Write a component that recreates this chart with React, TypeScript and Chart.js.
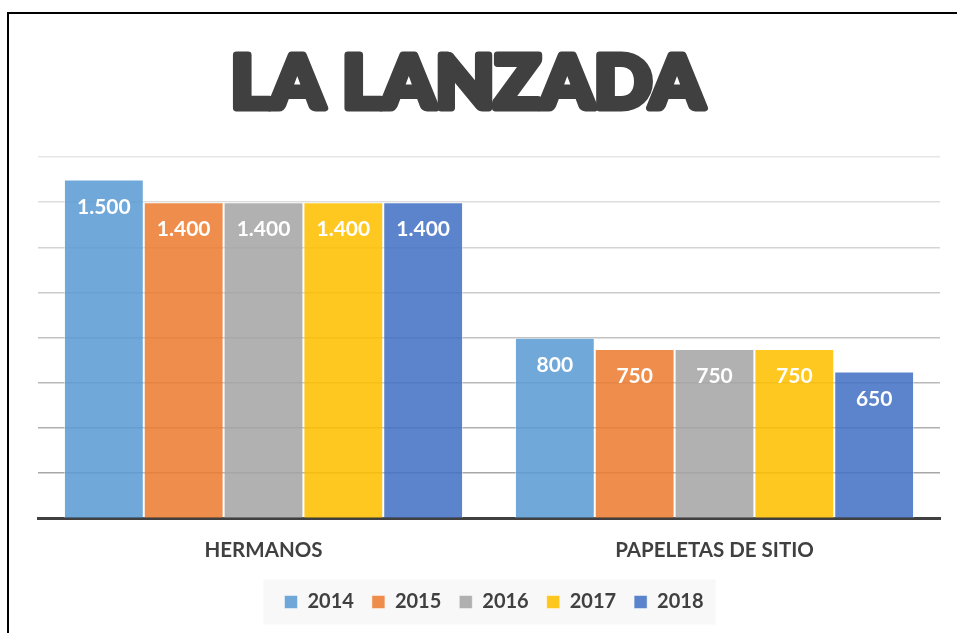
import React, { useEffect, useRef } from "react";
import { Chart, registerables } from "chart.js";

Chart.register(...registerables);

// ---- data ----
const categories = ["HERMANOS", "PAPELETAS DE SITIO"];
const seriesNames = ["2014", "2015", "2016", "2017", "2018"];
const values2014 = [1500, 800];
const values2015 = [1400, 750];
const values2016 = [1400, 750];
const values2017 = [1400, 750];
const values2018 = [1400, 650];
const yMax = 1600;
const yStep = 200;
const titleText = "LA LANZADA";

const seriesValues = [values2014, values2015, values2016, values2017, values2018];
const seriesColors = [
  "rgba(91,155,213,0.87)",
  "rgba(237,125,49,0.87)",
  "rgba(165,165,165,0.87)",
  "rgba(255,192,0,0.87)",
  "rgba(68,114,196,0.87)",
];

const fmt = (v: number) => {
  const s = String(Math.round(v));
  return s.replace(/\B(?=(\d{3})+(?!\d))/g, ".");
};

const DARK = "#404040";

const titlePlugin = {
  id: "bigTitle",
  afterDraw(chart: any) {
    const ctx = chart.ctx as CanvasRenderingContext2D;
    ctx.save();
    ctx.font = "900 80px Lato, 'DejaVu Sans', sans-serif";
    ctx.textAlign = "left";
    ctx.textBaseline = "alphabetic";
    const m = ctx.measureText(titleText);
    const w = m.actualBoundingBoxRight + m.actualBoundingBoxLeft;
    const h = m.actualBoundingBoxAscent;
    const strokePx = 7;
    const left = 233;
    const right = 708;
    const top = 52;
    const bottom = 111;
    const targetW = right - left - strokePx;
    const targetH = bottom - top - strokePx;
    const sx = targetW / w;
    const sy = targetH / h;
    ctx.translate(left + strokePx / 2, bottom - strokePx / 2);
    ctx.scale(sx, sy);
    ctx.fillStyle = DARK;
    ctx.strokeStyle = DARK;
    ctx.lineJoin = "round";
    ctx.lineWidth = strokePx / ((sx + sy) / 2);
    ctx.fillText(titleText, m.actualBoundingBoxLeft, 0);
    ctx.strokeText(titleText, m.actualBoundingBoxLeft, 0);
    ctx.restore();
  },
};

const valueLabelPlugin = {
  id: "valueLabels",
  afterDatasetsDraw(chart: any) {
    const ctx = chart.ctx as CanvasRenderingContext2D;
    ctx.save();
    ctx.font = "bold 21px Lato, sans-serif";
    ctx.fillStyle = "#ffffff";
    ctx.textAlign = "center";
    ctx.textBaseline = "middle";
    chart.data.datasets.forEach((ds: any, i: number) => {
      const meta = chart.getDatasetMeta(i);
      meta.data.forEach((el: any, j: number) => {
        ctx.fillText(fmt(ds.data[j]), el.x, el.y + 27.5);
      });
    });
    ctx.restore();
  },
};

const LEGEND_SHIFT = 5;

const legendBgPlugin = {
  id: "legendBg",
  afterUpdate(chart: any) {
    const lg = chart.legend;
    if (!lg) return;
    lg.left += LEGEND_SHIFT;
    lg.right += LEGEND_SHIFT;
    (lg.legendHitBoxes || []).forEach((bx: any) => {
      bx.left += LEGEND_SHIFT;
    });
  },
  beforeDraw(chart: any) {
    const lg = chart.legend;
    if (!lg || !lg.legendHitBoxes || !lg.legendHitBoxes.length) return;
    const boxes = lg.legendHitBoxes;
    let l = Infinity, r = -Infinity;
    boxes.forEach((bx: any) => {
      l = Math.min(l, bx.left);
      r = Math.max(r, bx.left + bx.width);
    });
    const fontSize = 20;
    const cy = lg.top + lg.options.labels.padding + fontSize / 2;
    const ctx = chart.ctx as CanvasRenderingContext2D;
    ctx.save();
    ctx.fillStyle = "#f8f8f8";
    ctx.fillRect(l - 21, cy - 22.5, r - l + 33, 45);
    ctx.restore();
  },
};

export default function App() {
  const ref = useRef<HTMLCanvasElement>(null);
  useEffect(() => {
    if (!ref.current) return;
    const chart = new Chart(ref.current, {
      type: "bar",
      data: {
        labels: categories,
        datasets: seriesNames.map((name, i) => ({
          label: name,
          data: seriesValues[i],
          backgroundColor: seriesColors[i],
          borderColor: "rgba(255,255,255,0.45)",
          borderWidth: 1,
          categoryPercentage: 0.885,
          barPercentage: 1,
        })),
      },
      options: {
        responsive: false,
        devicePixelRatio: 1,
        animation: false,
        layout: { padding: { top: 157, left: 38, right: 17, bottom: 11 } },
        scales: {
          x: {
            grid: { display: false, drawTicks: false },
            border: { display: true, color: DARK, width: 3 },
            ticks: {
              color: DARK,
              font: { family: "Lato, sans-serif", size: 20.5, weight: "bold" },
              padding: 20,
            },
            afterFit: (s: any) => {
              s.height -= 9;
            },
          },
          y: {
            min: 0,
            max: yMax,
            ticks: { display: false, stepSize: yStep },
            border: { display: false },
            grid: {
              drawTicks: false,
              lineWidth: 1.5,
              color: (c: any) => {
                const v = c.tick ? c.tick.value : 0;
                const g = Math.round(158 + (v / yMax) * (230 - 158));
                return `rgb(${g},${g},${g})`;
              },
            },
          },
        },
        plugins: {
          title: { display: false },
          tooltip: { enabled: false },
          legend: {
            position: "bottom",
            labels: {
              color: DARK,
              boxWidth: 13,
              boxHeight: 13,
              padding: 18,
              font: { family: "Lato, sans-serif", size: 20, weight: "bold" },
            },
          },
        },
      },
      plugins: [legendBgPlugin, titlePlugin, valueLabelPlugin],
    } as any);
    return () => chart.destroy();
  }, []);

  return (
    <div style={{ position: "absolute", left: 0, top: 0, width: 957, height: 633, background: "#fff", overflow: "hidden" }}>
      <div
        style={{
          position: "absolute",
          left: 7,
          top: 12,
          width: 1000,
          height: 700,
          borderLeft: "2px solid #000",
          borderTop: "2px solid #000",
        }}
      />
      <canvas ref={ref} width={957} height={633} style={{ position: "absolute", left: 0, top: 0, width: 957, height: 633 }} />
    </div>
  );
}
